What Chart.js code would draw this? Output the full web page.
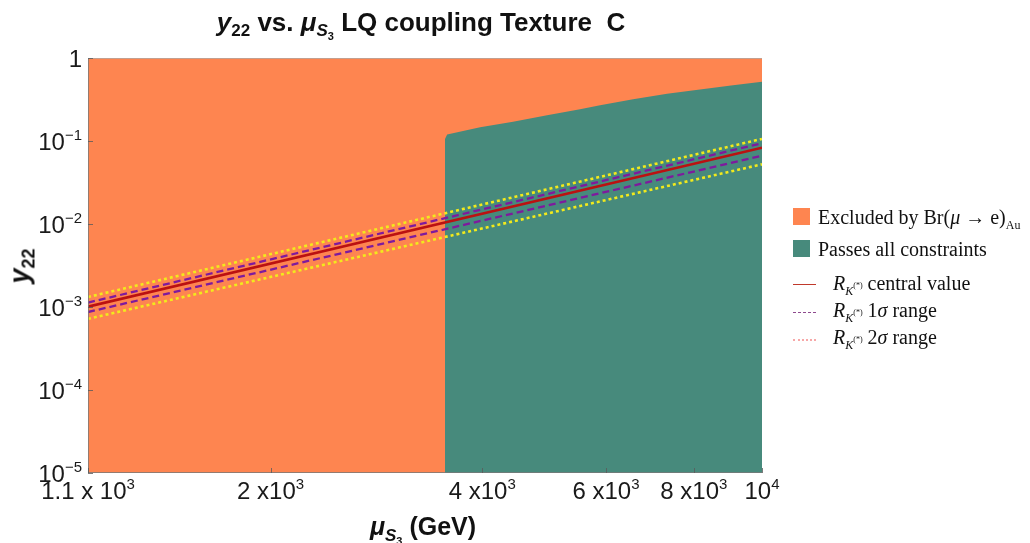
<!DOCTYPE html>
<html><head><meta charset="utf-8">
<script src="https://cdn.jsdelivr.net/npm/chart.js@4.4.1/dist/chart.umd.min.js"></script>
<style>
html,body{margin:0;padding:0;background:#fff;}
#wrap{position:relative;width:1030px;height:543px;overflow:hidden;font-family:"Liberation Sans",Arial,sans-serif;}
#wrap canvas{position:absolute;left:0;top:0;}
.lbl{position:absolute;white-space:nowrap;color:#1a1a1a;font-size:24px;line-height:1;}
.lbl sup{font-size:15px;position:relative;top:-10px;vertical-align:baseline;}
#title{position:absolute;left:0;width:842px;top:9px;text-align:center;font-weight:bold;font-size:26px;line-height:1;color:#111;white-space:nowrap;}
#title sub{font-size:17px;vertical-align:baseline;position:relative;top:5px;}
#title sub sub{font-size:11px;top:4px;}
#xtitle{position:absolute;left:0;width:846px;top:514px;text-align:center;font-weight:bold;font-size:25px;line-height:1;color:#111;white-space:nowrap;}
#xtitle sub{font-size:17px;vertical-align:baseline;position:relative;top:6px;}
#xtitle sub sub{font-size:11px;top:4px;}
#ytitle{position:absolute;left:20px;top:266px;transform:translate(-50%,-50%) rotate(-90deg);font-weight:bold;font-size:27px;line-height:1;color:#111;white-space:nowrap;}
#ytitle sub{font-size:18px;vertical-align:baseline;position:relative;top:6px;}
#legend{position:absolute;left:793px;top:200px;font-family:"Liberation Serif","Times New Roman",serif;font-size:20px;color:#111;}
.row{position:absolute;left:0;white-space:nowrap;line-height:1;}
.sw{position:absolute;left:0;width:17px;height:17px;}
.ln{position:absolute;left:0;width:23px;height:0;}
.txt{position:absolute;left:25px;}
.txt sub{font-size:12px;vertical-align:baseline;position:relative;top:5px;}
.txt sub sup{font-size:8px;position:relative;top:-7px;vertical-align:baseline;}
</style></head>
<body>
<div id="wrap">
<canvas id="c" width="1030" height="543"></canvas>
<div id="title"><i>y</i><sub>22</sub> vs. <i>μ</i><sub><i>S</i><sub>3</sub></sub> LQ coupling Texture&nbsp;&nbsp;C</div>
<div id="xtitle"><i>μ</i><sub><i>S</i><sub>3</sub></sub> (GeV)</div>
<div id="ytitle"><i>y</i><sub>22</sub></div>
<div id="legend">
  <div class="row" style="top:8px"><div class="sw" style="background:#fe8550"></div><div class="txt" style="top:-1px">Excluded by Br(<i>μ</i> → e)<sub>Au</sub></div></div>
  <div class="row" style="top:40px"><div class="sw" style="background:#478a7c"></div><div class="txt" style="top:-1px">Passes all constraints</div></div>
  <div class="row" style="top:73px"><div class="ln" style="top:11px;border-top:1.4px solid #c0392b"></div><div class="txt" style="left:40px"><i>R</i><sub><i>K</i><sup>(*)</sup></sub> central value</div></div>
  <div class="row" style="top:100px"><div class="ln" style="top:12px;border-top:1.4px dashed #8e4a8e"></div><div class="txt" style="left:40px"><i>R</i><sub><i>K</i><sup>(*)</sup></sub> 1<i>σ</i> range</div></div>
  <div class="row" style="top:127px"><div class="ln" style="top:12px;border-top:2px dotted #f7a8a8"></div><div class="txt" style="left:40px"><i>R</i><sub><i>K</i><sup>(*)</sup></sub> 2<i>σ</i> range</div></div>
</div>
</div>
<script>
// ---- data ----
const xMin = 1100, xMax = 10000, yMin = 1e-5, yMax = 1;

const excludedX = [1100, 10000];
const excludedY = [1, 1];

const passX = [3540, 3540, 3566, 3973, 4425, 4947, 5511, 5885, 6557, 7329, 8163, 9094, 10000];
const passY = [1e-5, 0.105, 0.120, 0.146, 0.171, 0.204, 0.241, 0.270, 0.318, 0.372, 0.418, 0.470, 0.518];

const bandX = [1100, 10000];
const centralY = [1.01e-3, 0.083];
const sigma1UpperY = [1.13e-3, 0.094];
const sigma1LowerY = [0.87e-3, 0.0665];
const sigma2UpperY = [1.32e-3, 0.106];
const sigma2LowerY = [0.72e-3, 0.0524];

const xTicks = [1100, 2000, 4000, 6000, 8000, 10000];
const xTickLabels = [["1.1 x 10", "3"], ["2 x10", "3"], ["4 x10", "3"], ["6 x10", "3"], ["8 x10", "3"], ["10", "4"]];
const yTicks = [1, 0.1, 0.01, 0.001, 0.0001, 0.00001];
const yTickLabels = [["1", ""], ["10", "−1"], ["10", "−2"], ["10", "−3"], ["10", "−4"], ["10", "−5"]];

function pts(xs, ys) { return xs.map((x, i) => ({ x: x, y: ys[i] })); }

function lineDs(ys, color, width, dash, order) {
  return { data: pts(bandX, ys), borderColor: color, borderWidth: width, borderDash: dash,
    pointRadius: 0, fill: false, tension: 0, order: order };
}

let labelsBuilt = false;
const axisPlugin = {
  id: 'axisDeco',
  afterDraw(chart) {
    const ctx = chart.ctx, a = chart.chartArea, sx = chart.scales.x, sy = chart.scales.y;
    ctx.save();
    ctx.strokeStyle = 'rgba(120,120,120,0.8)';
    ctx.lineWidth = 1;
    ctx.beginPath();
    ctx.moveTo(a.left + 0.5, a.top); ctx.lineTo(a.left + 0.5, a.bottom);
    ctx.moveTo(a.left, a.bottom - 0.5); ctx.lineTo(a.right, a.bottom - 0.5);
    ctx.stroke();
    ctx.strokeStyle = 'rgba(170,170,170,0.7)';
    ctx.beginPath();
    ctx.moveTo(a.left, a.top + 0.5); ctx.lineTo(a.right, a.top + 0.5);
    ctx.stroke();
    ctx.strokeStyle = 'rgba(90,90,90,0.8)';
    ctx.beginPath();
    xTicks.forEach(v => { const p = Math.round(sx.getPixelForValue(v)) + 0.5; ctx.moveTo(p, a.bottom); ctx.lineTo(p, a.bottom - 5); });
    yTicks.forEach(v => { const p = Math.round(sy.getPixelForValue(v)) + 0.5; ctx.moveTo(a.left, p); ctx.lineTo(a.left + 5, p); });
    ctx.stroke();
    ctx.restore();

    if (!labelsBuilt) {
      labelsBuilt = true;
      const wrap = document.getElementById('wrap');
      xTicks.forEach((v, i) => {
        const el = document.createElement('div');
        el.className = 'lbl';
        el.innerHTML = xTickLabels[i][0] + '<sup>' + xTickLabels[i][1] + '</sup>';
        el.style.left = sx.getPixelForValue(v) + 'px';
        el.style.top = (a.bottom + 6) + 'px';
        el.style.transform = 'translateX(-50%)';
        wrap.appendChild(el);
      });
      yTicks.forEach((v, i) => {
        const el = document.createElement('div');
        el.className = 'lbl';
        el.innerHTML = yTickLabels[i][0] + (yTickLabels[i][1] ? '<sup>' + yTickLabels[i][1] + '</sup>' : '');
        el.style.right = (1030 - a.left + 6) + 'px';
        el.style.top = (sy.getPixelForValue(v) - 11) + 'px';
        wrap.appendChild(el);
      });
    }
  }
};

new Chart(document.getElementById('c'), {
  type: 'line',
  data: {
    datasets: [
      lineDs(sigma2UpperY, '#f2ea1c', 2.6, [3, 3], 0),
      lineDs(sigma2LowerY, '#f2ea1c', 2.6, [3, 3], 0),
      lineDs(sigma1UpperY, '#7e1a9e', 2.3, [7, 4], 0),
      lineDs(sigma1LowerY, '#7e1a9e', 2.3, [7, 4], 0),
      lineDs(centralY, '#bb1111', 2.6, [], 0),
      { data: pts(passX, passY), borderWidth: 0, borderColor: 'rgba(0,0,0,0)', backgroundColor: '#478a7c',
        pointRadius: 0, fill: 'start', tension: 0, order: 5 },
      { data: pts(excludedX, excludedY), borderWidth: 0, borderColor: 'rgba(0,0,0,0)', backgroundColor: '#fe8550',
        pointRadius: 0, fill: 'start', tension: 0, order: 10 }
    ]
  },
  options: {
    responsive: false, animation: false, events: [],
    layout: { padding: { left: 88, right: 268, top: 58, bottom: 70 } },
    scales: {
      x: { type: 'logarithmic', min: xMin, max: xMax, display: false },
      y: { type: 'logarithmic', min: yMin, max: yMax, display: false }
    },
    plugins: { legend: { display: false }, tooltip: { enabled: false } }
  },
  plugins: [axisPlugin]
});
</script>
</body></html>
